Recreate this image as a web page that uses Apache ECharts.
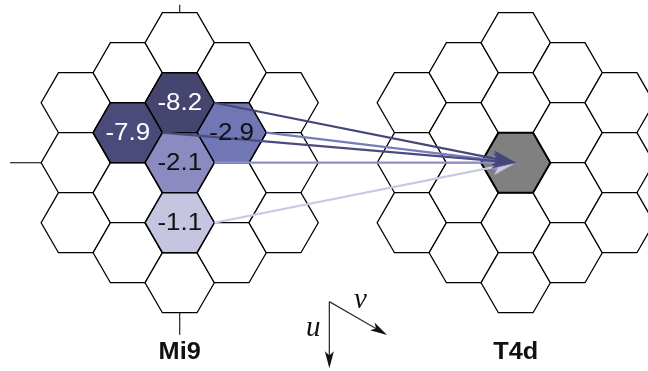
<!DOCTYPE html>
<html>
<head>
<meta charset="utf-8">
<script src="https://cdn.jsdelivr.net/npm/echarts/dist/echarts.min.js"></script>
<style>
  html, body { margin: 0; padding: 0; background: #fff; }
  #main { width: 648px; height: 371px; }
</style>
</head>
<body>
<div id="main"></div>
<script>
// Axial (q, r) coordinates of the 19 cells of a radius-2 hexagonal neighbourhood
const cellQ = [-2, -2, -2, -1, -1, -1, -1, 0, 0, 0, 0, 0, 1, 1, 1, 1, 2, 2, 2];
const cellR = [0, 1, 2, -1, 0, 1, 2, -2, -1, 0, 1, 2, -2, -1, 0, 1, -2, -1, 0];

// The two detector grids and their horizontal placement (in hex-radius units)
const gridNames = ['Mi9', 'T4d'];
const gridOffsets = [0, 9.7];

// Weighted input cells of Mi9
const weightValues = [-8.2, -7.9, -2.9, -2.1, -1.1];
const weightQ = [0, -1, 1, 0, 0];
const weightR = [-1, 0, -1, 0, 1];

// Output cell of T4d
const targetQ = [0];
const targetR = [0];

// Fill / arrow colours for the weighted cells
const weightColors = ['#45456f', '#4a4a7b', '#7177b5', '#8b8bc2', '#c6c5e1'];
const arrowColors = ['#46467a', '#4b4b80', '#767cbb', '#8e8fc8', '#c9c8e5'];
// Draw order of the connecting arrows (last one on top)
const arrowOrder = [3, 2, 4, 1, 0];

const SQ3 = Math.sqrt(3);
function hexCenter(offset, q, r) {
  return [offset + 1.5 * q, SQ3 * (r + q / 2)];
}
function hexPoints(api, c) {
  const pts = [];
  for (let k = 0; k < 6; k++) {
    const a = Math.PI / 3 * k;
    pts.push(api.coord([c[0] + Math.cos(a), c[1] + Math.sin(a)]));
  }
  return pts;
}
function arrowHead(tip, from, len, half) {
  const dx = tip[0] - from[0], dy = tip[1] - from[1];
  const d = Math.hypot(dx, dy);
  const ux = dx / d, uy = dy / d;
  const bx = tip[0] - ux * len, by = tip[1] - uy * len;
  return {
    base: [tip[0] - ux * len * 0.7, tip[1] - uy * len * 0.7],
    points: [tip, [bx - uy * half, by + ux * half], [tip[0] - ux * len * 0.75, tip[1] - uy * len * 0.75], [bx + uy * half, by - ux * half]]
  };
}

const baseCells = [];
gridOffsets.forEach(function (off) {
  for (let i = 0; i < cellQ.length; i++) baseCells.push([off, cellQ[i], cellR[i]]);
});

const option = {
  animation: false,
  backgroundColor: '#ffffff',
  grid: { left: 0, right: 0, top: 0, bottom: 0 },
  xAxis: { type: 'value', min: -5.188, max: 13.519, show: false },
  yAxis: { type: 'value', min: -4.697, max: 6.013, inverse: true, show: false },
  series: [
    {
      // centre axes of the Mi9 grid
      type: 'custom',
      coordinateSystem: 'cartesian2d',
      data: [[gridOffsets[0], 0]],
      z: 1,
      renderItem: function (params, api) {
        const cx = api.value(0), cy = api.value(1);
        const top = api.coord([cx, cy - SQ3 * 2.5]);
        const bot = api.coord([cx, cy + SQ3 * 2.5]);
        const left = api.coord([cx - 4, cy]);
        const st = { stroke: '#222', lineWidth: 1.2 };
        return {
          type: 'group',
          children: [
            { type: 'line', shape: { x1: top[0], y1: top[1], x2: top[0], y2: top[1] - 8 }, style: st },
            { type: 'line', shape: { x1: bot[0], y1: bot[1], x2: bot[0], y2: bot[1] + 22 }, style: st },
            { type: 'line', shape: { x1: left[0], y1: left[1], x2: left[0] - 31, y2: left[1] }, style: st }
          ]
        };
      }
    },
    {
      // empty hexagon cells of both grids
      type: 'custom',
      coordinateSystem: 'cartesian2d',
      data: baseCells,
      z: 2,
      renderItem: function (params, api) {
        const c = hexCenter(api.value(0), api.value(1), api.value(2));
        return {
          type: 'polygon',
          shape: { points: hexPoints(api, c) },
          style: { fill: '#ffffff', stroke: '#000000', lineWidth: 1.3 }
        };
      }
    },
    {
      // target cell of T4d
      type: 'custom',
      coordinateSystem: 'cartesian2d',
      data: targetQ.map(function (q, i) { return [gridOffsets[1], q, targetR[i]]; }),
      z: 3,
      renderItem: function (params, api) {
        const c = hexCenter(api.value(0), api.value(1), api.value(2));
        return {
          type: 'polygon',
          shape: { points: hexPoints(api, c) },
          style: { fill: '#808080', stroke: '#000000', lineWidth: 2 }
        };
      }
    },
    {
      // weighted cells of Mi9
      type: 'custom',
      coordinateSystem: 'cartesian2d',
      data: weightValues.map(function (v, i) { return [weightQ[i], weightR[i], v]; }),
      z: 4,
      renderItem: function (params, api) {
        const c = hexCenter(gridOffsets[0], api.value(0), api.value(1));
        return {
          type: 'polygon',
          shape: { points: hexPoints(api, c) },
          style: { fill: weightColors[params.dataIndex], stroke: '#000000', lineWidth: 1.5 }
        };
      }
    },
    {
      // arrows from the weighted cells to the target cell
      type: 'custom',
      coordinateSystem: 'cartesian2d',
      data: arrowOrder.map(function (i) { return [weightQ[i], weightR[i], i]; }),
      z: 5,
      renderItem: function (params, api) {
        const i = api.value(2);
        const s = hexCenter(gridOffsets[0], api.value(0), api.value(1));
        const t = hexCenter(gridOffsets[1], targetQ[0], targetR[0]);
        const p0 = api.coord([s[0] + 1, s[1]]);
        const p1 = api.coord(t);
        const h = arrowHead(p1, p0, 23, 7.5);
        const col = arrowColors[i];
        return {
          type: 'group',
          children: [
            { type: 'line', shape: { x1: p0[0], y1: p0[1], x2: h.base[0], y2: h.base[1] }, style: { stroke: col, lineWidth: 2.2 } },
            { type: 'polygon', shape: { points: h.points }, style: { fill: col, stroke: col, lineWidth: 0.5 } }
          ]
        };
      }
    },
    {
      // value labels of the weighted cells
      type: 'custom',
      coordinateSystem: 'cartesian2d',
      data: weightValues.map(function (v, i) { return [weightQ[i], weightR[i], v]; }),
      z: 6,
      renderItem: function (params, api) {
        const v = api.value(2);
        const c = api.coord(hexCenter(gridOffsets[0], api.value(0), api.value(1)));
        return {
          type: 'text',
          x: c[0], y: c[1] + 0.5,
          scaleX: 1.08,
          style: {
            text: v.toFixed(1), x: 0, y: 0,
            align: 'center', verticalAlign: 'middle',
            fontSize: 24, fontFamily: 'Liberation Sans, Arial, sans-serif',
            fill: v < -5 ? '#ffffff' : '#111111'
          }
        };
      }
    },
    {
      // grid names
      type: 'custom',
      coordinateSystem: 'cartesian2d',
      data: gridOffsets.map(function (off) { return [off, 5.48]; }),
      z: 6,
      renderItem: function (params, api) {
        const c = api.coord([api.value(0), api.value(1)]);
        return {
          type: 'text',
          x: c[0], y: c[1],
          scaleX: 1.1,
          style: {
            text: gridNames[params.dataIndex], x: 0, y: 0,
            align: 'center', verticalAlign: 'middle',
            fontSize: 23, fontWeight: 'bold', fontFamily: 'Liberation Sans, Arial, sans-serif',
            fill: '#111111'
          }
        };
      }
    },
    {
      // u / v lattice directions
      type: 'custom',
      coordinateSystem: 'cartesian2d',
      data: [[4.32, 4.01]],
      z: 6,
      renderItem: function (params, api) {
        const o = [api.value(0), api.value(1)];
        const len = 1.923;
        const p0 = api.coord(o);
        const pu = api.coord([o[0], o[1] + len]);
        const pv = api.coord([o[0] + len * SQ3 / 2, o[1] + len / 2]);
        const hu = arrowHead(pu, p0, 17, 4.5);
        const hv = arrowHead(pv, p0, 17, 4.5);
        const ls = { stroke: '#333333', lineWidth: 1.3 };
        const fs = { fill: '#111111' };
        const txt = function (t, x, y) {
          return {
            type: 'text', x: x, y: y,
            style: { text: t, x: 0, y: 0, align: 'center', verticalAlign: 'middle',
              fontSize: 29, fontStyle: 'italic', fontFamily: 'Liberation Serif, Times New Roman, serif', fill: '#111111' }
          };
        };
        return {
          type: 'group',
          children: [
            { type: 'line', shape: { x1: p0[0], y1: p0[1], x2: hu.base[0], y2: hu.base[1] }, style: ls },
            { type: 'polygon', shape: { points: hu.points }, style: fs },
            { type: 'line', shape: { x1: p0[0], y1: p0[1], x2: hv.base[0], y2: hv.base[1] }, style: ls },
            { type: 'polygon', shape: { points: hv.points }, style: fs },
            txt('u', p0[0] - 16, p0[1] + 27),
            txt('v', p0[0] + 31, p0[1] - 1)
          ]
        };
      }
    }
  ]
};

const chart = echarts.init(document.getElementById('main'), null, { renderer: 'canvas' });
chart.setOption(option);
</script>
</body>
</html>
